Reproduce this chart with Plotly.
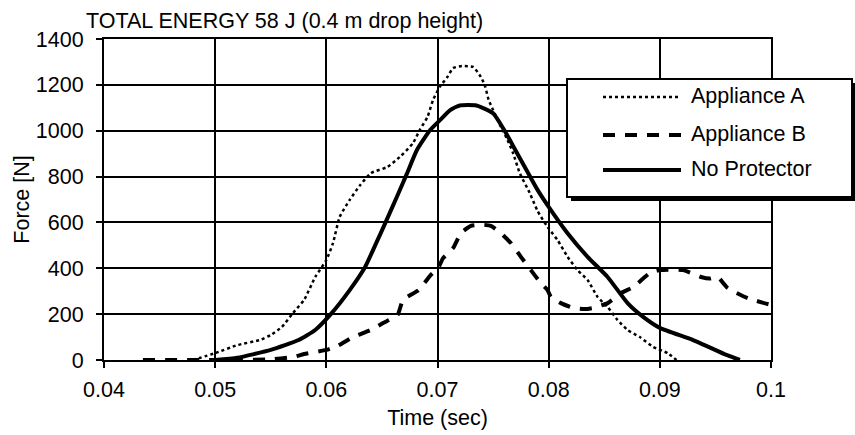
import plotly.graph_objects as go

# ---- data ----
time_a = [0.048, 0.050, 0.052, 0.054, 0.055, 0.056, 0.057, 0.058, 0.059, 0.060, 0.0606, 0.0612,
          0.0621, 0.063, 0.064, 0.0655, 0.0666, 0.0678, 0.0684, 0.0691, 0.0696, 0.0702, 0.0709,
          0.0714, 0.0722, 0.0732, 0.0739, 0.0743, 0.0746, 0.075, 0.0757, 0.0763, 0.0768, 0.0774,
          0.0783, 0.079, 0.0799, 0.0808, 0.0817, 0.0826, 0.0835, 0.0844, 0.0853, 0.0862, 0.0871,
          0.0882, 0.0894, 0.0907, 0.0915]
force_a = [0, 30, 65, 87, 109, 144, 205, 262, 362, 436, 510, 624,
           698, 760, 815, 842, 885, 946, 1003, 1060, 1134, 1191, 1235,
           1273, 1282, 1278, 1235, 1191, 1134, 1090, 1017, 960, 902, 815,
           728, 650, 580, 523, 450, 392, 349, 275, 231, 174, 131,
           100, 57, 30, 0]

time_b = [0.0435, 0.050, 0.055, 0.057, 0.058, 0.060, 0.061, 0.0624, 0.064, 0.0651, 0.0664, 0.0669,
          0.0683, 0.0694, 0.0701, 0.0705, 0.0714, 0.0721, 0.073, 0.074, 0.0748, 0.0757, 0.0766,
          0.0775, 0.0784, 0.0793, 0.0799, 0.0802, 0.0811, 0.0822, 0.0832, 0.084, 0.0853, 0.0865,
          0.0876, 0.0891, 0.090, 0.0921, 0.0937, 0.0945, 0.0952, 0.0961, 0.0979, 0.100]
force_b = [0, 0, 3, 13, 26, 44, 61, 100, 131, 161, 196, 262,
           305, 371, 405, 444, 488, 553, 585, 590, 585, 553, 510,
           450, 392, 335, 305, 275, 248, 227, 222, 227, 248, 292,
           318, 379, 392, 392, 362, 355, 362, 314, 270, 240]

time_n = [0.050, 0.052, 0.055, 0.0575, 0.059, 0.0604, 0.0621, 0.0635, 0.0644, 0.0653,
          0.06635, 0.06725, 0.06815, 0.06934, 0.07024, 0.07114, 0.0720, 0.0735, 0.075, 0.076,
          0.077, 0.078, 0.079, 0.080, 0.0817, 0.0835, 0.0853, 0.0871, 0.0885, 0.090, 0.093,
          0.096, 0.0972]
force_n = [0, 10, 44, 87, 131, 200, 305, 407, 501, 597,
           712, 813, 916, 1003, 1047, 1090, 1110, 1110, 1076, 1003,
           916, 829, 742, 668, 553, 450, 362, 248, 188, 140, 87,
           22, 0]

series_names = ["Appliance A", "Appliance B", "No Protector"]
x_ticks = [0.04, 0.05, 0.06, 0.07, 0.08, 0.09, 0.1]
x_tick_labels = ["0.04", "0.05", "0.06", "0.07", "0.08", "0.09", "0.1"]
y_ticks = [0, 200, 400, 600, 800, 1000, 1200, 1400]

FONT = "Liberation Sans, Arial, Helvetica, sans-serif"
FS = 21.5
W, H = 855, 435
ML, MR, MT, MB = 104, 84, 39, 75
PW, PH = W - ML - MR, H - MT - MB

def px(x):   # pixel -> paper x
    return (x - ML) / PW

def py(y):   # pixel -> paper y
    return (H - MB - y) / PH

styles = [dict(color="black", width=2.5, dash="dot"),
          dict(color="black", width=4, dash="12px,10px"),
          dict(color="black", width=4)]

fig = go.Figure()
for name, xs, ys, st in zip(series_names, [time_a, time_b, time_n], [force_a, force_b, force_n], styles):
    fig.add_trace(go.Scatter(x=xs, y=ys, mode="lines", name=name,
                             line=dict(**st, shape="spline", smoothing=0.5), showlegend=False))

axis_common = dict(showgrid=True, gridcolor="black", gridwidth=2,
                   showline=True, linecolor="black", linewidth=2, mirror=True,
                   ticks="outside", ticklen=6, tickwidth=2, tickcolor="black",
                   zeroline=False, automargin=False,
                   tickfont=dict(size=FS, color="black", family=FONT))

fig.update_xaxes(range=[0.04, 0.1], tickvals=x_ticks, ticktext=x_tick_labels, ticklabelstandoff=3,
                 title=dict(text="Time (sec)", font=dict(size=FS, color="black", family=FONT), standoff=9),
                 **axis_common)
fig.update_yaxes(range=[0, 1400], tickvals=y_ticks, ticklabelstandoff=8,
                 title=dict(text="Force [N]", font=dict(size=FS, color="black", family=FONT), standoff=0),
                 **axis_common)

# ---- legend box (with drop shadow) ----
fig.add_shape(type="rect", xref="paper", yref="paper",
              x0=px(571), x1=px(857), y0=py(201), y1=py(83),
              fillcolor="black", line=dict(width=0), layer="above")
fig.add_shape(type="rect", xref="paper", yref="paper",
              x0=px(567), x1=px(852), y0=py(197), y1=py(79),
              fillcolor="white", line=dict(color="black", width=2), layer="above")
legend_rows = [97, 135, 170]
for name, st, yy in zip(series_names, styles, legend_rows):
    fig.add_shape(type="line", xref="paper", yref="paper",
                  x0=px(603), x1=px(681), y0=py(yy), y1=py(yy), line=st, layer="above")
    fig.add_annotation(xref="paper", yref="paper", x=px(689), y=py(yy - 1), text=name,
                       showarrow=False, xanchor="left", yanchor="middle",
                       font=dict(size=FS, color="black", family=FONT))

fig.update_layout(
    width=W, height=H,
    margin=dict(l=ML, r=MR, t=MT, b=MB),
    paper_bgcolor="white", plot_bgcolor="white",
    font=dict(family=FONT, size=FS, color="black"),
    title=dict(text="TOTAL ENERGY 58 J (0.4 m drop height)", x=86 / W, xanchor="left",
               y=1 - 20 / H, yanchor="middle", font=dict(size=FS, color="black", family=FONT)),
    showlegend=False,
)

fig.write_html("out.html", config={"displayModeBar": False},
               post_script="document.body.style.margin='0';document.body.style.padding='0';"
                           "document.body.style.overflow='hidden';")
